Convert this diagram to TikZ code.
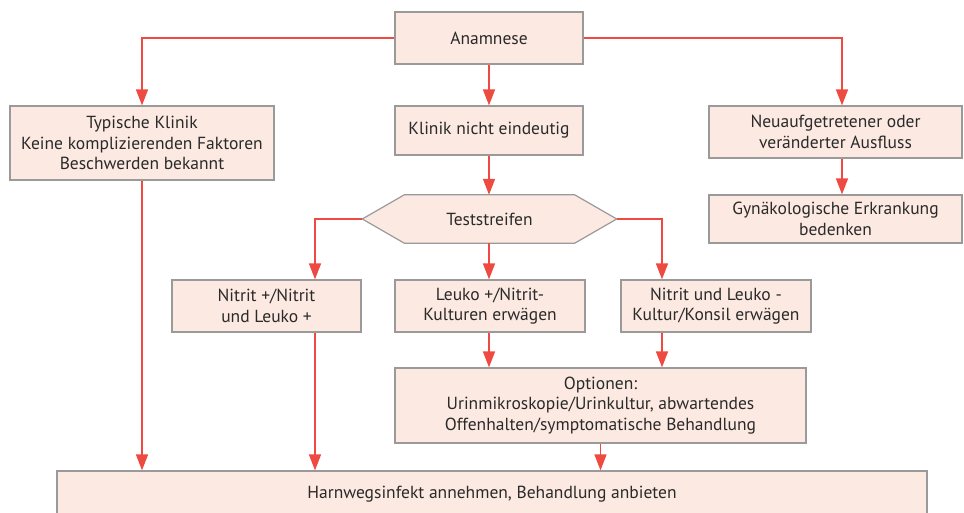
\documentclass[tikz,border=0pt]{standalone}
\usepackage{fontspec}
\setmainfont{PT Sans}
\usetikzlibrary{arrows.meta,backgrounds}
\definecolor{boxfill}{HTML}{FCE9E2}
\definecolor{boxline}{HTML}{9A9A9A}
\definecolor{conn}{HTML}{EE4A42}
\definecolor{txtc}{HTML}{2A2A2A}
\begin{document}
\begin{tikzpicture}[x=1pt,y=-1pt,
  box/.style={draw=boxline, line width=1.2pt, fill=boxfill, text=txtc, align=center,
    inner sep=0pt, font=\fontsize{17.5}{20.5}\selectfont},
  hexlabel/.style={text=txtc, inner sep=0pt, font=\fontsize{17.5}{20.5}\selectfont},
  hexbox/.style={draw=boxline, line width=1.2pt, fill=boxfill, line join=miter},
  ln/.style={draw=conn, line width=1.5pt},
  arr/.style={draw=conn, line width=1.5pt, -{Triangle[length=16pt,width=12pt]}}]
\useasboundingbox (0,0) rectangle (964,513);
\clip (0,0) rectangle (964,513);

\node[box, minimum width=188, minimum height=52] (anam) at (489,38) {Anamnese};
\node[box, minimum width=264, minimum height=74] (typ) at (142,143)
  {Typische Klinik\\Keine komplizierenden Faktoren\\Beschwerden bekannt};
\node[box, minimum width=188, minimum height=49] (klin) at (489,130.5) {Klinik nicht eindeutig};
\node[box, minimum width=253, minimum height=52] (neu) at (835.5,132)
  {Neuaufgetretener oder\\veränderter Ausfluss};
\node[box, minimum width=253, minimum height=48] (gyn) at (835.5,219)
  {Gynäkologische Erkrankung\\bedenken};

\node[hexlabel, minimum width=170, minimum height=48] (test) at (489.5,219) {Teststreifen};
\coordinate (tL) at ([xshift=-42pt]test.west);
\coordinate (tR) at ([xshift=42pt]test.east);
\begin{scope}[on background layer]
  \path[hexbox] (tL) -- (test.north west) -- (test.north east) -- (tR)
    -- (test.south east) -- (test.south west) -- cycle;
\end{scope}

\node[box, minimum width=189, minimum height=52] (n1) at (266.5,306) {Nitrit +/Nitrit\\und Leuko +};
\node[box, minimum width=190, minimum height=52] (leuko) at (490,306) {Leuko +/Nitrit-\\Kulturen erwägen};
\node[box, minimum width=190, minimum height=52] (n2) at (716,306) {Nitrit und Leuko -\\Kultur/Konsil erwägen};
\node[box, minimum width=411, minimum height=75] (opt) at (600.5,405.5)
  {Optionen:\\Urinmikroskopie/Urinkultur, abwartendes\\Offenhalten/symptomatische Behandlung};
\node[box, minimum width=870, minimum height=46] (harn) at (492,494)
  {Harnwegsinfekt annehmen, Behandlung anbieten};

% connectors
\draw[arr] (anam.west) -| (typ.north);
\draw[arr] (anam.east) -| ([xshift=6.5pt]neu.north);
\draw[arr] (anam.south) -- (klin.north);
\draw[arr] ([xshift=6.5pt]neu.south) -- ([xshift=6.5pt]gyn.north);
\draw[arr] (klin.south) -- (test.north -| klin.south);
\draw[arr] (tL) -| ([xshift=48.5pt]n1.north);
\draw[arr] (tR) -| ([xshift=-54pt]n2.north);
\draw[arr] (test.south -| klin.south) -- (leuko.north -| klin.south);
\draw[arr] (leuko.south -| klin.south) -- (opt.north -| klin.south);
\draw[arr] ([xshift=-54pt]n2.south) -- ([xshift=-54pt]n2.south |- opt.north);
\draw[arr] (typ.south) -- (typ.south |- harn.north);
\draw[arr] ([xshift=48.5pt]n1.south) -- ([xshift=48.5pt]n1.south |- harn.north);
\draw[arr] (opt.south) -- (opt.south |- harn.north);
\end{tikzpicture}
\end{document}
